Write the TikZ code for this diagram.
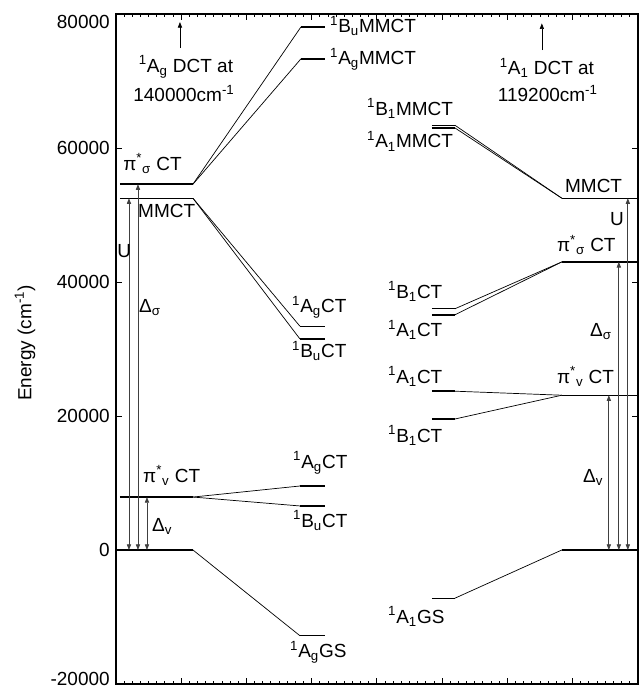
\documentclass[tikz,border=0pt]{standalone}
\usepackage{fontspec}
\setmainfont{Liberation Sans}
\usetikzlibrary{arrows.meta}
\tikzset{
    level/.style = {line width=1pt},
    link/.style = {line width=0.5pt},
    gap/.style = {line width=0.5pt, black!75, {Triangle[length=4pt,width=3pt]}-{Triangle[length=4pt,width=3pt]}},
    up/.style = {line width=0.5pt, -{Triangle[length=4pt,width=3pt]}},
    lab/.style = {inner sep=0pt, anchor=base west},
    note/.style = {inner sep=0pt, anchor=base},
    tick/.style = {line width=0.6pt}
}
\newcommand{\irrep}[2]{\textsuperscript{1}#1\textsubscript{#2}}

\begin{document}
\begin{tikzpicture}[x=0.025cm, y=0.1675cm, font=\fontsize{13.5}{15}\selectfont]
    \useasboundingbox (0,-20.6) rectangle (639,82.09);

    % Frame and ticks
    \draw[line width=1pt] (116,-20) rectangle (638,80);
    \foreach \k in {1,...,63} {
        \draw[tick] (116+\k*8.15625,-20) -- ++(0,0.45);
        \draw[tick] (116+\k*8.15625,80) -- ++(0,-0.45);
    }
    \foreach \k in {1,...,7} {
        \draw[tick] (116+\k*65.25,-20) -- ++(0,0.9);
        \draw[tick] (116+\k*65.25,80) -- ++(0,-0.9);
    }
    \foreach \e in {0,20,40,60} {
        \draw[tick] (116,\e) -- (122,\e);
        \draw[tick] (638,\e) -- (632,\e);
    }
    \foreach \e in {20,40,60}
        \node[anchor=east, inner sep=0pt] (y\e) at (110,\e) {\e000};
    \node[anchor=east, inner sep=0pt] (y0) at (110,0) {0};
    \node[anchor=east, inner sep=0pt] (y80) at (110,78.8) {80000};
    \node[anchor=east, inner sep=0pt] (ym20) at (110,-19.3) {-20000};
    \node[rotate=90] (ylab) at (25,30.9) {Energy (cm\textsuperscript{-1})};

    % Levels
    \foreach \nm/\xa/\xb/\ee in {
        lgs/116/193/0, lpv/120/193/7.9, lmm/120/193/52.5, lps/120/193/54.6,
        lBuMM/301/325/78.06, lAgMM/301/325/73.3, lAgCT/300/325/33.4, lBuCT/300/325/31.5,
        lAgCTv/300/325/9.55, lBuCTv/300/325/6.57, lAgGS/300/325/-12.8,
        rgs/562/638/0, rpv/562/638/23.1, rps/562/638/43.0, rmm/562/638/52.5,
        rB1MM/432/455/63.4, rA1MM/432/455/63.0, rB1CT/432/455/36.0, rA1CT/432/455/35.1,
        rA1CTv/432/455/23.7, rB1CTv/432/455/19.55, rA1GS/432/455/-7.2} {
        \coordinate (\nm-l) at (\xa,\ee);
        \coordinate (\nm-r) at (\xb,\ee);
        \draw[level] (\nm-l) -- (\nm-r);
    }

    % Correlation lines
    \foreach \a/\b in {lps/lBuMM, lps/lAgMM, lmm/lAgCT, lmm/lBuCT,
        lpv/lAgCTv, lpv/lBuCTv, lgs/lAgGS,
        rB1MM/rmm, rA1MM/rmm, rB1CT/rps, rA1CT/rps,
        rA1CTv/rpv, rB1CTv/rpv, rA1GS/rgs}
        \draw[link] (\a-r) -- (\b-l);

    % Gaps
    \foreach \nm/\xx/\ee in {uL/129/52.5, sL/138/54.6, vL/147/7.9,
        vR/609/23.1, sR/619/43.0, uR/628/52.5} {
        \coordinate (\nm-b) at (\xx,0);
        \coordinate (\nm-t) at (\xx,\ee);
        \draw[gap] (\nm-b) -- (\nm-t);
    }

    % Off-scale DCT states
    \coordinate (dctL-b) at (180,74.9);
    \coordinate (dctL-t) at (180,78.8);
    \coordinate (dctR-b) at (542,74.6);
    \coordinate (dctR-t) at (542,78.6);
    \draw[up] (dctL-b) -- (dctL-t);
    \draw[up] (dctR-b) -- (dctR-t);
    \node[note] (tdctL) at (186,71.3) {\irrep{A}{g} DCT at};
    \node[note] (tcmL) at (184,66.9) {140000cm\textsuperscript{-1}};
    \node[note] (tdctR) at (547,70.9) {\irrep{A}{1} DCT at};
    \node[note] (tcmR) at (548,66.9) {119200cm\textsuperscript{-1}};

    % Labels, left
    \node[lab] (tpsL) at (123,56.7) {π\textsuperscript{*}\textsubscript{σ} CT};
    \node[lab] (tmmL) at (138,49.7) {MMCT};
    \node[lab] (tuL) at (117,43.6) {U};
    \node[lab] (tsL) at (139,35.5) {Δ\textsubscript{σ}};
    \node[lab] (tpvL) at (143,10.1) {π\textsuperscript{*}\textsubscript{v} CT};
    \node[lab] (tvL) at (152,2.8) {Δ\textsubscript{v}};
    \node[lab] (tBuMM) at (330,77.2) {\irrep{B}{u}MMCT};
    \node[lab] (tAgMM) at (330,72.4) {\irrep{A}{g}MMCT};
    \node[lab] (tAgCT) at (292,35.4) {\irrep{A}{g}CT};
    \node[lab] (tBuCT) at (292,28.7) {\irrep{B}{u}CT};
    \node[lab] (tAgCTv) at (293,12.2) {\irrep{A}{g}CT};
    \node[lab] (tBuCTv) at (293,3.4) {\irrep{B}{u}CT};
    \node[lab] (tAgGS) at (290,-16.1) {\irrep{A}{g}GS};

    % Labels, right
    \node[lab] (tB1MM) at (367,64.9) {\irrep{B}{1}MMCT};
    \node[lab] (tA1MM) at (367,60.0) {\irrep{A}{1}MMCT};
    \node[lab] (tmmR) at (565,53.4) {MMCT};
    \node[lab] (tuR) at (610,48.5) {U};
    \node[lab] (tpsR) at (557,44.5) {π\textsuperscript{*}\textsubscript{σ} CT};
    \node[lab] (tsR) at (590,31.8) {Δ\textsubscript{σ}};
    \node[lab] (tpvR) at (557,24.9) {π\textsuperscript{*}\textsubscript{v} CT};
    \node[lab] (tvR) at (583,10.1) {Δ\textsubscript{v}};
    \node[lab] (tB1CT) at (388,37.6) {\irrep{B}{1}CT};
    \node[lab] (tA1CT) at (388,31.8) {\irrep{A}{1}CT};
    \node[lab] (tA1CTv) at (388,24.9) {\irrep{A}{1}CT};
    \node[lab] (tB1CTv) at (388,16.1) {\irrep{B}{1}CT};
    \node[lab] (tA1GS) at (388,-10.9) {\irrep{A}{1}GS};
\end{tikzpicture}
\end{document}
